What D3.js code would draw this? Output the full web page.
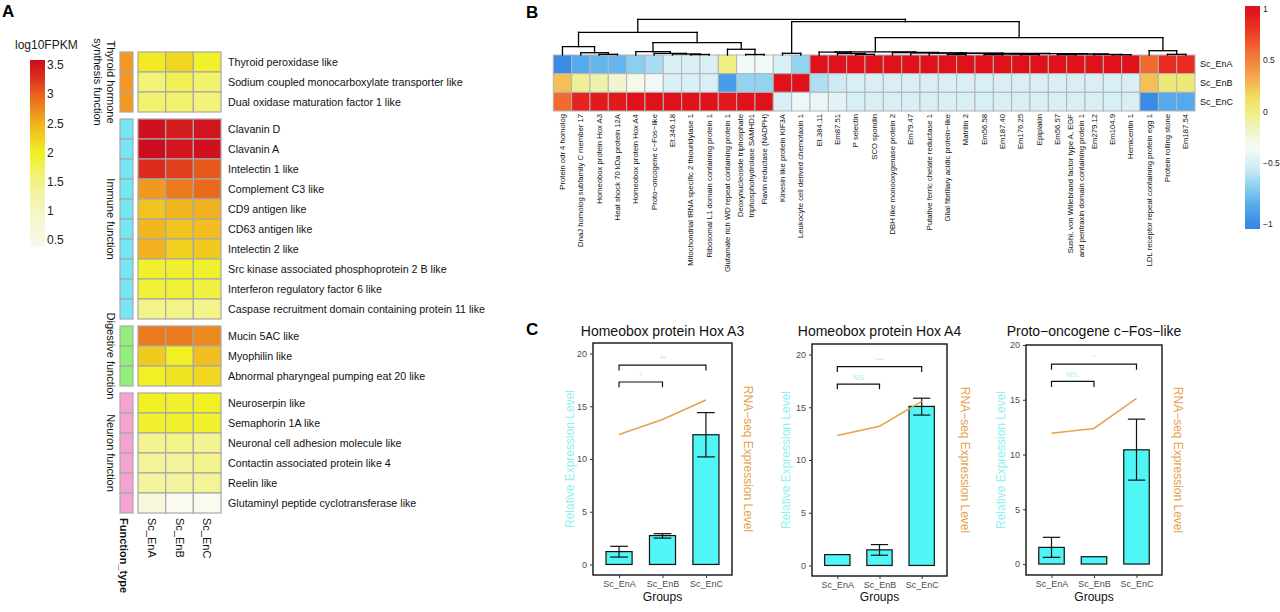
<!DOCTYPE html>
<html><head><meta charset="utf-8">
<script src="https://cdn.jsdelivr.net/npm/d3@7"></script>
<style>body{margin:0;background:#fff}svg{display:block;font-family:"Liberation Sans",Arial,sans-serif}</style>
</head><body><svg id="c" width="1280" height="612"></svg>
<script>
// ================= DATA =================
// Panel A
const samplesA = ["Sc_EnA","Sc_EnB","Sc_EnC"];
const groupNamesA = [["Thyroid hormone","synthesis function"],["Immune function"],["Digestive function"],["Neuron function"]];
const groupColorsA = ["#f5961e","#74e6f4","#92ee7a","#f5a4d2"];
const genesA = ["Thyroid peroxidase like","Sodium coupled monocarboxylate transporter like","Dual oxidase maturation factor 1 like",
  "Clavanin D","Clavanin A","Intelectin 1 like","Complement C3 like","CD9 antigen like","CD63 antigen like","Intelectin 2 like",
  "Src kinase associated phosphoprotein 2 B like","Interferon regulatory factor 6 like","Caspase recruitment domain containing protein 11 like",
  "Mucin 5AC like","Myophilin like","Abnormal pharyngeal pumping eat 20 like",
  "Neuroserpin like","Semaphorin 1A like","Neuronal cell adhesion molecule like","Contactin associated protein like 4","Reelin like","Glutaminyl peptide cyclotransferase like"];
const geneGroupA = [0,0,0,1,1,1,1,1,1,1,1,1,1,2,2,2,3,3,3,3,3,3];
const fpkmEnA = [2.05,1.6,1.65,3.55,3.58,3.3,2.65,2.35,2.45,2.5,1.95,1.9,1.45,2.85,2.3,2.0,2.0,1.95,1.4,1.35,1.3,0.65];
const fpkmEnB = [2.2,1.75,1.65,3.45,3.5,3.2,2.85,2.45,2.35,2.25,1.95,1.9,1.45,2.85,2.0,2.1,1.95,1.95,1.45,1.3,1.3,0.35];
const fpkmEnC = [1.95,1.65,1.55,3.5,3.55,3.05,2.95,2.5,2.4,2.3,1.95,1.85,1.45,2.75,2.4,2.2,2.0,1.95,1.4,1.45,1.35,0.35];
const legendTicksA = [0.5,1,1.5,2,2.5,3,3.5];

// Panel B
const samplesB = ["Sc_EnA","Sc_EnB","Sc_EnC"];
const genesB = ["Protein odr 4 homolog","DnaJ homolog subfamily C member 17","Homeobox protein Hox A3","Heat shock 70 kDa protein 12A",
  "Homeobox protein Hox A4","Proto\u2212oncogene c\u2212Fos\u2212like","Et.346.18","Mitochondrial tRNA specific 2 thiouridylase 1",
  "Ribosomal L1 domain containing protein 1","Glutamate rich WD repeat containing protein 1",
  "Deoxynucleoside triphosphate|triphosphohydrolase SAMHD1","Flavin reductase (NADPH)","Kinesin like protein KIF3A",
  "Leukocyte cell derived chemotaxin 1","Et.384.11","Em87.51","P selectin","SCO spondin","DBH like monooxygenase protein 2",
  "Em79.47","Putative ferric chelate reductase 1","Glial fibrillary acidic protein\u2212like","Matrilin 2","Em56.58","Em187.40",
  "Em176.25","Epiplakin","Em56.57","Sushi, von Willebrand factor type A, EGF|and pentraxin domain containing protein 1",
  "Em279.12","Em104.9","Hemicentin 1","LDL receptor repeat containing protein egg 1","Protein rolling stone","Em187.54"];
const zEnA = [-1.0,-0.85,-0.8,-0.8,-0.7,-0.63,-0.5,-0.5,-0.5,0.0,-0.38,-0.38,-0.5,-0.68,
  1,1,1,1,1,1,1,1,1,1,1,1,1,1,1,1,1,1,0.6,0.85,0.85];
const zEnB = [0.25,-0.05,-0.1,-0.2,-0.3,-0.38,-0.5,-0.5,-0.5,-0.92,-0.68,-0.68,1,1,
  -0.62,-0.55,-0.5,-0.5,-0.5,-0.5,-0.5,-0.5,-0.5,-0.5,-0.5,-0.5,-0.5,-0.5,-0.5,-0.5,-0.5,-0.5,0.25,0.05,0.05];
const zEnC = [0.6,0.9,0.95,0.95,1,1,1,1,1,0.95,1,1,-0.5,-0.4,
  -0.42,-0.45,-0.5,-0.5,-0.5,-0.5,-0.5,-0.5,-0.5,-0.5,-0.5,-0.5,-0.5,-0.5,-0.5,-0.5,-0.5,-0.5,-1.0,-0.85,-0.85];
// dendrogram: [left, right, mergeHeight], leaves = column index
const treeB = [
  [[0,[1,[2,3,0.7],2.3],8.3],
   [[4,[5,[6,[7,8,0.5],1.0],1.7],3.3],[9,[10,11,0.5],5.7],12.3],22.7],
  [[12,13,1.7],
   [[[14,[15,[16,17,0.6],1.5],2.8],
     [18,[19,[20,[[21,22,0.5],[[[23,24,0.4],[25,26,0.5],0.9],[[27,28,0.4],[29,[30,31,0.3],0.6],1.0],1.3],1.6],1.9],2.2],2.5],3.2],
    [32,[33,34,0.7],4.3],17.3],33.3],
  35.7];
const legendTicksB = [1,0.5,0,-0.5,-1];

// Panel C
const groupsC = ["Sc_EnA","Sc_EnB","Sc_EnC"];
const titlesC = ["Homeobox protein Hox A3","Homeobox protein Hox A4","Proto\u2212oncogene c\u2212Fos\u2212like"];
const qpcrMean = [[1.22,2.74,12.3],[1.03,1.48,15.08],[1.52,0.67,10.43]];
const qpcrLow  = [[0.7,2.5,10.2],[null,0.97,14.26],[0.61,null,7.66]];
const qpcrHigh = [[1.72,2.92,14.4],[null,1.98,15.86],[2.44,null,13.23]];
const rnaseqC  = [[12.33,13.75,15.6],[12.32,13.2,15.55],[11.95,12.38,15.12]];
const sigLabels = [["**","*"],["***","NS"],["*","NS."]];
const sigHeights = [[18.9,17.3],[18.85,17.2],[18.25,16.67]];
const yMaxC = [21,21,20];
const yTicksC = [0,5,10,15,20];

// ================= DRAW =================
const svg = d3.select("#c");
svg.append("rect").attr("width",1280).attr("height",612).attr("fill","#fff");

function panelLetter(t,x,y){
  svg.append("text").attr("x",x).attr("y",y).attr("font-size",17).attr("font-weight","bold").attr("fill","#000").text(t);
}
panelLetter("A",2,17); panelLetter("B",526,18); panelLetter("C",526,335);

// ---------- Panel A ----------
const colorA = d3.scaleLinear()
  .domain([0.3,0.8,1.2,1.6,2.0,2.5,3.0,3.3,3.6])
  .range(["#fafaf4","#f6f6d2","#f4f4ac","#f2f276","#f0f022","#f2b11e","#e8621c","#dc2c1e","#cc0a1e"])
  .clamp(true);
const gA = svg.append("g");
const rowH = 20, gapA = 7;
const rowY = d3.scaleLinear().domain([0,1]).range([52,52+rowH]);
const yA = i => rowY(i) + geneGroupA[i]*gapA;
const xA = d3.scaleBand().domain(samplesA).range([138,221]);
const fpkm = [fpkmEnA,fpkmEnB,fpkmEnC];

// legend
const defs = svg.append("defs");
const legA = d3.scaleLinear().domain([3.586,0.38]).range([60,247]);
const gradA = defs.append("linearGradient").attr("id","gA").attr("x1",0).attr("x2",0).attr("y1",0).attr("y2",1);
d3.range(0,1.0001,0.05).forEach(t=>gradA.append("stop").attr("offset",t).attr("stop-color",colorA(legA.invert(60+t*187))));
gA.append("rect").attr("x",30).attr("y",60).attr("width",15).attr("height",187).attr("fill","url(#gA)");
gA.append("text").attr("x",15).attr("y",49).attr("font-size",12).attr("fill","#222").text("log10FPKM");
gA.selectAll(".lt").data(legendTicksA).join("text").attr("x",47).attr("y",d=>legA(d)).attr("dy","0.35em")
  .attr("font-size",12).attr("fill","#222").text(d=>d);

// function type column
gA.selectAll(".ft").data(genesA).join("rect")
  .attr("x",120).attr("y",(d,i)=>yA(i)).attr("width",13).attr("height",rowH)
  .attr("fill",(d,i)=>groupColorsA[geneGroupA[i]]).attr("stroke","#a8a8a8").attr("stroke-width",1.2);
// cells
genesA.forEach((g,i)=>{
  samplesA.forEach((s,j)=>{
    gA.append("rect").attr("x",xA(s)).attr("y",yA(i)).attr("width",xA.bandwidth()).attr("height",rowH)
      .attr("fill",colorA(fpkm[j][i])).attr("stroke","#a8a8a8").attr("stroke-width",1.2);
  });
  gA.append("text").attr("x",228).attr("y",yA(i)+rowH/2).attr("dy","0.35em").attr("font-size",10.7).attr("fill","#111").text(g);
});
// group labels
groupNamesA.forEach((lines,k)=>{
  const idx = d3.range(genesA.length).filter(i=>geneGroupA[i]===k);
  const cy = (yA(idx[0]) + yA(idx[idx.length-1]) + rowH)/2;
  const t = gA.append("text").attr("transform",`translate(${lines.length>1?104:111},${cy}) rotate(90)`)
    .attr("text-anchor","middle").attr("font-size",11).attr("fill","#111");
  lines.forEach((l,n)=>t.append("tspan").attr("x",0).attr("y",(n-(lines.length-1)/2)*13).attr("dominant-baseline","central").text(l));
});
// bottom labels
gA.append("text").attr("transform","translate(120,518) rotate(90)").attr("font-size",11).attr("font-weight","bold").attr("fill","#111").text("Function_type");
samplesA.forEach(s=>{
  gA.append("text").attr("transform",`translate(${xA(s)+xA.bandwidth()/2-4},518) rotate(90)`).attr("font-size",11).attr("fill","#111").text(s);
});

// ---------- Panel B ----------
const colorB = d3.scaleLinear()
  .domain([-1.05,-0.85,-0.7,-0.55,-0.45,-0.35,-0.15,0,0.15,0.3,0.6,0.8,1.0])
  .range(["#2f82e4","#55aaec","#88cff0","#cdebf4","#e2f3f6","#f8fbf8","#eef2c0","#efee80","#f3dc60","#f5b050","#f36a30","#ec3424","#e0111b"])
  .clamp(true);
const gB = svg.append("g");
const xB = d3.scaleBand().domain(d3.range(genesB.length)).range([553.3,1195]);
const yB = d3.scaleBand().domain(samplesB).range([55,111]);
const zB = [zEnA,zEnB,zEnC];
samplesB.forEach((s,j)=>{
  gB.selectAll(null).data(zB[j]).join("rect")
    .attr("x",(d,i)=>xB(i)).attr("y",yB(s)).attr("width",xB.bandwidth()).attr("height",yB.bandwidth())
    .attr("fill",d=>colorB(d)).attr("stroke","#b4b4b4").attr("stroke-width",1);
  gB.append("text").attr("x",1200).attr("y",yB(s)+yB.bandwidth()/2).attr("dy","0.35em").attr("font-size",9).attr("fill","#111").text(s);
});
// column labels
genesB.forEach((g,i)=>{
  const lines = g.split("|");
  const cx = xB(i)+xB.bandwidth()/2;
  const t = gB.append("text").attr("transform",`translate(${cx},114) rotate(-90)`).attr("text-anchor","end").attr("font-size",7.7).attr("fill","#111");
  lines.forEach((l,n)=>t.append("tspan").attr("x",0).attr("y",(n-(lines.length-1)/2)*10.5).attr("dominant-baseline","central").text(l));
});
// dendrogram
const hy = d3.scaleLinear().domain([0,36]).range([55,19]);
const segs = [];
function lay(node){
  if (typeof node === "number") return {x:xB(node)+xB.bandwidth()/2, h:0};
  const l = lay(node[0]), r = lay(node[1]), h = node[2];
  segs.push([l.x,hy(l.h),l.x,hy(h)],[r.x,hy(r.h),r.x,hy(h)],[l.x,hy(h),r.x,hy(h)]);
  return {x:(l.x+r.x)/2, h};
}
lay(treeB);
gB.selectAll(".dg").data(segs).join("line").attr("x1",d=>d[0]).attr("y1",d=>d[1]).attr("x2",d=>d[2]).attr("y2",d=>d[3])
  .attr("stroke","#000").attr("stroke-width",1.3).attr("stroke-linecap","square");
// legend B
const legB = d3.scaleLinear().domain([1,0.5,0,-0.5,-1]).range([9,60,112,163,224]);
const gradB = defs.append("linearGradient").attr("id","gB").attr("x1",0).attr("x2",0).attr("y1",0).attr("y2",1);
d3.range(0,1.0001,0.025).forEach(t=>{
  const yy = 6+t*223; const v = yy<224 ? legB.invert(yy) : -1.03;
  gradB.append("stop").attr("offset",t).attr("stop-color",colorB(v));
});
gB.append("rect").attr("x",1245).attr("y",6).attr("width",15).attr("height",223).attr("fill","url(#gB)");
gB.selectAll(".lb").data(legendTicksB).join("text").attr("x",1263).attr("y",d=>legB(d)).attr("dy","0.35em")
  .attr("font-size",8.5).attr("fill","#222").text(d=>d<0?"\u2212"+Math.abs(d):d);

// ---------- Panel C ----------
const framesC = [
  {x0:593,x1:732,y0:343,y1:575,lt:570,rt:748},
  {x0:812,x1:947,y0:344,y1:576,lt:786,rt:965},
  {x0:1026,x1:1162,y0:345,y1:575,lt:1001,rt:1178}];
framesC.forEach((f,k)=>{
  const g = svg.append("g");
  const x = d3.scalePoint().domain(groupsC).range([f.x0,f.x1]).padding(0.6);
  const y = d3.scaleLinear().domain([-1,yMaxC[k]]).range([f.y1,f.y0]);
  const bw = (x.step())*0.6;
  // bars
  g.selectAll(".bar").data(groupsC).join("rect")
    .attr("x",d=>x(d)-bw/2).attr("y",(d,i)=>y(qpcrMean[k][i])).attr("width",bw)
    .attr("height",(d,i)=>y(0)-y(qpcrMean[k][i])).attr("fill","#50f5f5").attr("stroke","#111").attr("stroke-width",1.2);
  // error bars
  groupsC.forEach((d,i)=>{
    if (qpcrLow[k][i]==null) return;
    const cx = x(d), hw = bw*0.34;
    g.append("line").attr("x1",cx).attr("x2",cx).attr("y1",y(qpcrLow[k][i])).attr("y2",y(qpcrHigh[k][i])).attr("stroke","#111").attr("stroke-width",1.2);
    [qpcrLow[k][i],qpcrHigh[k][i]].forEach(v=>g.append("line").attr("x1",cx-hw).attr("x2",cx+hw).attr("y1",y(v)).attr("y2",y(v)).attr("stroke","#111").attr("stroke-width",1.2));
  });
  // RNA-seq line
  g.append("path").datum(rnaseqC[k]).attr("fill","none").attr("stroke","#e4a34c").attr("stroke-width",1.5)
    .attr("d",d3.line().x((d,i)=>x(groupsC[i])).y(d=>y(d)));
  // significance brackets
  const pairs = [[0,2],[0,1]];
  pairs.forEach((p,n)=>{
    const h = sigHeights[k][n], xa = x(groupsC[p[0]]), xb = x(groupsC[p[1]]);
    g.append("path").attr("fill","none").attr("stroke","#111").attr("stroke-width",1.2)
      .attr("d",`M${xa},${y(h-0.5)}V${y(h)}H${xb}V${y(h-0.5)}`);
    g.append("text").attr("x",(xa+xb)/2).attr("y",y(h)-4).attr("text-anchor","middle").attr("font-size",8)
      .attr("fill","#a6eeee").text(sigLabels[k][n]);
  });
  // frame
  g.append("rect").attr("x",f.x0).attr("y",f.y0).attr("width",f.x1-f.x0).attr("height",f.y1-f.y0)
    .attr("fill","none").attr("stroke","#111").attr("stroke-width",1.4);
  // axes
  const ya = g.append("g").attr("transform",`translate(${f.x0},0)`).call(d3.axisLeft(y).tickValues(yTicksC).tickSize(3).tickPadding(3));
  ya.select(".domain").remove();
  ya.selectAll("text").attr("font-size",9).attr("fill","#4d4d4d").attr("font-family",'"Liberation Sans",Arial,sans-serif');
  ya.selectAll("line").attr("stroke","#333");
  const xa = g.append("g").attr("transform",`translate(0,${f.y1})`).call(d3.axisBottom(x).tickSize(3).tickPadding(3));
  xa.select(".domain").remove();
  xa.selectAll("text").attr("font-size",9).attr("fill","#4d4d4d").attr("font-family",'"Liberation Sans",Arial,sans-serif');
  xa.selectAll("line").attr("stroke","#333");
  // titles
  const cx = (f.x0+f.x1)/2, cy=(f.y0+f.y1)/2;
  g.append("text").attr("x",cx).attr("y",336).attr("text-anchor","middle").attr("font-size",14).attr("fill","#111").text(titlesC[k]);
  g.append("text").attr("x",cx).attr("y",601).attr("text-anchor","middle").attr("font-size",12).attr("fill","#111").text("Groups");
  g.append("text").attr("transform",`translate(${f.lt},${cy}) rotate(-90)`).attr("text-anchor","middle").attr("dominant-baseline","central")
    .attr("font-size",12).attr("fill","#8ef0f0").text("Relative Expression Level");
  g.append("text").attr("transform",`translate(${f.rt},${cy}) rotate(90)`).attr("text-anchor","middle").attr("dominant-baseline","central")
    .attr("font-size",12).attr("fill","#e3a24c").text("RNA\u2212seq Expression Level");
});
</script></body></html>
